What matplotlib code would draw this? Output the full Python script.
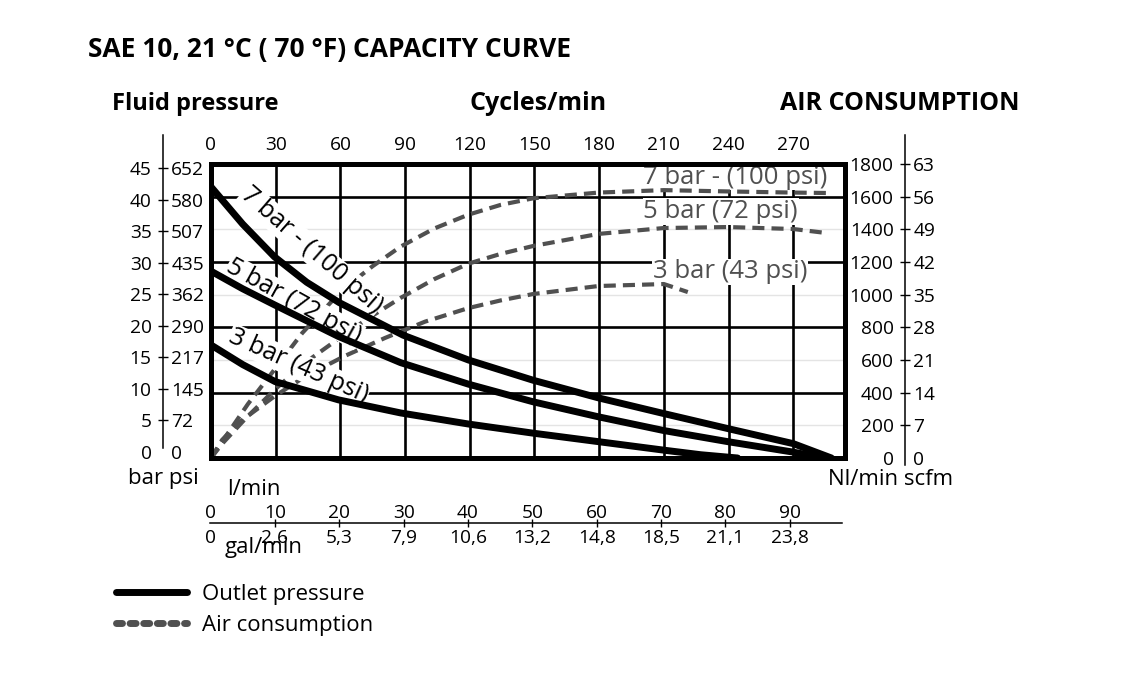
import matplotlib
matplotlib.use("Agg")
import matplotlib.pyplot as plt
from matplotlib.lines import Line2D

plt.rcParams['font.family'] = ['Open Sans', 'DejaVu Sans']

W, H = 1123, 686

# ---------------- data ----------------
flow_ticks = [0, 10, 20, 30, 40, 50, 60, 70, 80, 90]
cycle_labels = ['0', '30', '60', '90', '120', '150', '180', '210', '240', '270']
gal_labels = ['0', '2,6', '5,3', '7,9', '10,6', '13,2', '14,8', '18,5', '21,1', '23,8']
bar_ticks = [0, 5, 10, 15, 20, 25, 30, 35, 40, 45]
bar_labels = ['0', '5', '10', '15', '20', '25', '30', '35', '40', '45']
psi_labels = ['0', '72', '145', '217', '290', '362', '435', '507', '580', '652']
air_ticks = [0, 200, 400, 600, 800, 1000, 1200, 1400, 1600, 1800]
air_labels = ['0', '200', '400', '600', '800', '1000', '1200', '1400', '1600', '1800']
scfm_labels = ['0', '7', '14', '21', '28', '35', '42', '49', '56', '63']

# outlet pressure (bar) vs flow (l/min)
p7_flow = [0, 4.9, 9.8, 14.8, 19.8, 29.7, 39.8, 49.8, 59.9, 70.0, 79.9, 90.0, 95.9]
p7_bar = [41.5, 35.8, 30.8, 26.9, 23.8, 18.8, 15.0, 11.9, 9.2, 6.8, 4.5, 2.2, 0.0]
p5_flow = [0, 4.9, 9.9, 19.7, 29.3, 39.8, 49.8, 59.9, 70.0, 79.9, 90.0, 94.7]
p5_bar = [28.6, 25.9, 23.4, 18.6, 14.6, 11.3, 8.6, 6.3, 4.2, 2.5, 0.9, 0.0]
p3_flow = [0, 4.9, 9.9, 19.7, 29.3, 39.8, 49.8, 59.9, 70.0, 75.7, 81.4]
p3_bar = [17.3, 14.3, 11.7, 8.9, 6.9, 5.2, 3.8, 2.5, 1.2, 0.5, 0.0]

# air consumption (Nl/min) vs flow (l/min)
a7_flow = [0, 5.7, 9.4, 14.1, 20.3, 25.0, 29.3, 34.5, 39.8, 44.8, 49.8, 59.9, 70.0, 79.9, 90.0, 96.1]
a7_nl = [0, 330, 520, 765, 1029, 1175, 1294, 1405, 1490, 1550, 1590, 1625, 1640, 1632, 1625, 1622]
a5_flow = [0, 1.7, 5.3, 9.9, 14.6, 19.7, 24.3, 29.3, 34.5, 39.8, 44.8, 49.8, 59.9, 70.0, 79.9, 90.0, 95.0]
a5_nl = [0, 86, 240, 420, 585, 730, 855, 980, 1095, 1190, 1250, 1298, 1372, 1408, 1414, 1402, 1378]
a3_flow = [0, 1.7, 4.2, 9.9, 14.6, 20.7, 26.9, 33.1, 39.8, 44.8, 49.8, 59.9, 70.0, 73.7]
a3_nl = [0, 110, 214, 380, 500, 625, 735, 835, 918, 965, 1004, 1053, 1065, 1016]

labels_in = ['7 bar - (100 psi)', '5 bar (72 psi)', '3 bar (43 psi)']

GRAY = '#505050'
TICK_FS = 13.8


def fx(px):
    return px / W


def fy(py):
    return 1 - py / H


fig = plt.figure(figsize=(W / 100, H / 100), dpi=100)

# ---------------- main plot ----------------
ax = fig.add_axes([fx(211), fy(458), (845 - 211) / W, (458 - 164) / H])
ax.set_xlim(0, 98)
ax.set_ylim(0, 45)
for s in ax.spines.values():
    s.set_linewidth(3.6)
    s.set_color('black')
    s.set_zorder(6)
ax.set_xticks(flow_ticks, labels=cycle_labels)
ax.tick_params(axis='x', bottom=False, labelbottom=False, top=False, labeltop=True,
               length=0, pad=7, labelsize=TICK_FS)
ax.set_yticks([])
for v in flow_ticks[1:]:
    ax.axvline(v, color='black', lw=1.9, zorder=1)
for v in [10, 20, 30, 40]:
    ax.axhline(v, color='black', lw=1.9, zorder=1)
for v in [5, 15, 25, 35]:
    ax.axhline(v, color='#e4e4e4', lw=1.0, zorder=0.5)

axA = ax.twinx()
axA.set_ylim(0, 1800)
axA.axis('off')

# air consumption curves (dashed grey)
for fl, nl in [(a7_flow, a7_nl), (a5_flow, a5_nl), (a3_flow, a3_nl)]:
    ax.plot(fl, nl, transform=axA.transData, color=GRAY, lw=3.0,
            linestyle=(0, (2.9, 1.7)), dash_capstyle='butt', zorder=3)

# outlet pressure curves
for fl, pb in [(p7_flow, p7_bar), (p5_flow, p5_bar), (p3_flow, p3_bar)]:
    ax.plot(fl, pb, color='black', lw=5.0, solid_capstyle='round',
            solid_joinstyle='round', zorder=5)

# labels along outlet curves
bb = dict(facecolor='white', edgecolor='none', pad=0.5)
ax.text(15.5, 31.8, labels_in[0], rotation=-41, ha='center', va='center',
        fontsize=18, color='black', bbox=bb, zorder=4, rotation_mode='anchor')
ax.text(12.8, 23.9, labels_in[1], rotation=-29, ha='center', va='center',
        fontsize=18, color='black', bbox=bb, zorder=4, rotation_mode='anchor')
ax.text(13.5, 14.1, labels_in[2], rotation=-24, ha='center', va='center',
        fontsize=18, color='black', bbox=bb, zorder=4, rotation_mode='anchor')

# labels of air consumption curves
ax.text(81.1, 43.0, labels_in[0], ha='center', va='center', fontsize=18.5,
        color=GRAY, bbox=bb, zorder=2.5)
ax.text(78.8, 37.7, labels_in[1], ha='center', va='center', fontsize=18.5,
        color=GRAY, bbox=bb, zorder=2.5)
ax.text(80.2, 28.5, labels_in[2], ha='center', va='center', fontsize=18.5,
        color=GRAY, bbox=bb, zorder=2.5)


def scale_axis(ax0, ticks, labels_a, labels_b, lim, orient):
    """Thin axis: labels_a on one side of the line, labels_b on the other."""
    ax0.patch.set_visible(False)
    if orient == 'y':
        ax0.set_ylim(*lim)
        for k in ['top', 'right', 'bottom']:
            ax0.spines[k].set_visible(False)
        ax0.set_xticks([])
        ax0.set_yticks(ticks[1:], labels=labels_a[1:])
        ax0.set_yticks(ticks[:1], labels=labels_a[:1], minor=True)
        ax0.tick_params(axis='y', which='major', direction='inout', length=7,
                        width=1.0, pad=4.7, labelsize=TICK_FS)
        ax0.tick_params(axis='y', which='minor', length=0, pad=8.2, labelsize=TICK_FS)
        tw = ax0.twinx()
        tw.set_ylim(*lim)
        for k in tw.spines:
            tw.spines[k].set_visible(False)
        tw.set_yticks(ticks, labels=labels_b)
        tw.tick_params(axis='y', length=0, pad=5.8, labelsize=TICK_FS)
        return ax0.spines['left']
    else:
        ax0.set_xlim(*lim)
        for k in ['top', 'right', 'left']:
            ax0.spines[k].set_visible(False)
        ax0.set_yticks([])
        ax0.set_xticks(ticks[1:], labels=labels_b[1:])
        ax0.set_xticks(ticks[:1], labels=labels_b[:1], minor=True)
        ax0.tick_params(axis='x', which='major', direction='inout', length=6,
                        width=1.0, pad=1.0, labelsize=TICK_FS)
        ax0.tick_params(axis='x', which='minor', length=0, pad=4.0, labelsize=TICK_FS)
        tw = ax0.twiny()
        tw.set_xlim(*lim)
        for k in tw.spines:
            tw.spines[k].set_visible(False)
        tw.set_xticks(ticks, labels=labels_a)
        tw.tick_params(axis='x', length=0, pad=1.0, labelsize=TICK_FS)
        return ax0.spines['bottom']


# ---------------- left scale (bar / psi) ----------------
topL = 45 * (452 - 135) / (452 - 168)
axL = fig.add_axes([fx(163), fy(452), 0.0001, (452 - 135) / H])
sp = scale_axis(axL, bar_ticks, bar_labels, psi_labels, (0, topL), 'y')
sp.set_bounds(0.63, topL)
sp.set_linewidth(1.1)

# ---------------- right scale (Nl/min / scfm) ----------------
px_per = (458 - 164) / 1800
ylo = -(465 - 458) / px_per
yhi = 1800 + (164 - 135) / px_per
axR = fig.add_axes([fx(905), fy(465), 0.0001, (465 - 135) / H])
sp = scale_axis(axR, air_ticks, air_labels, scfm_labels, (ylo, yhi), 'y')
sp.set_linewidth(1.1)

# ---------------- bottom scale (l/min / gal/min) ----------------
axB = fig.add_axes([fx(210), fy(523), (842 - 210) / W, 0.0001])
sp = scale_axis(axB, flow_ticks, [str(v) for v in flow_ticks], gal_labels,
                (-0.09, 98.1), 'x')
sp.set_linewidth(1.1)

# ---------------- texts ----------------
fig.text(fx(88), fy(57), 'SAE 10, 21 °C ( 70 °F) CAPACITY CURVE', fontsize=19,
         fontweight='bold', ha='left', va='baseline')
fig.text(fx(112), fy(110), 'Fluid pressure', fontsize=17, fontweight='bold',
         ha='left', va='baseline')
fig.text(fx(538), fy(110), 'Cycles/min', fontsize=18, fontweight='bold',
         ha='center', va='baseline')
fig.text(fx(1020), fy(110), 'AIR CONSUMPTION', fontsize=18, fontweight='bold',
         ha='right', va='baseline')
fig.text(fx(163), fy(484), 'bar psi', fontsize=16, ha='center', va='baseline')
fig.text(fx(227), fy(495), 'l/min', fontsize=16, ha='left', va='baseline')
fig.text(fx(225), fy(553), 'gal/min', fontsize=16, ha='left', va='baseline')
fig.text(fx(828), fy(485), 'Nl/min scfm', fontsize=16, ha='left', va='baseline')

# ---------------- legend ----------------
h1 = Line2D([], [], color='black', lw=5, solid_capstyle='round')
h2 = Line2D([], [], color=GRAY, lw=5, linestyle=(0, (0.86, 1.1)), dash_capstyle='round')
fig.legend([h1, h2], ['Outlet pressure', 'Air consumption'], loc='upper left',
           bbox_to_anchor=(fx(116), fy(584)), frameon=False, fontsize=16,
           handlelength=3.2, handletextpad=0.65, labelspacing=0.43, borderpad=0,
           borderaxespad=0)

fig.savefig('out.png', dpi=100)
